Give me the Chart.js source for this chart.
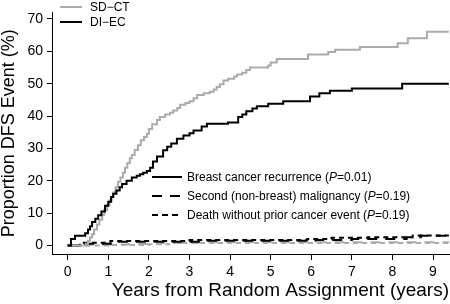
<!DOCTYPE html>
<html>
<head>
<meta charset="utf-8">
<script src="https://cdn.jsdelivr.net/npm/chart.js@4.4.0/dist/chart.umd.min.js"></script>
<style>
  html, body { margin: 0; padding: 0; background: #fff; }
  #wrap { width: 450px; height: 304px; }
</style>
</head>
<body>
<div id="wrap"><canvas id="dfsChart" width="450" height="304"></canvas></div>
<script>
// time (years) where each step happens, and the cumulative % after the step
var sdctTimes = [0, 0.45, 0.5, 0.55, 0.6, 0.65, 0.72, 0.78, 0.85, 0.9, 0.97, 1.03, 1.08, 1.13, 1.18, 1.24, 1.3, 1.36, 1.41, 1.47, 1.53, 1.58, 1.65, 1.73, 1.8, 1.88, 1.95, 2.0, 2.08, 2.2, 2.27, 2.4, 2.52, 2.6, 2.7, 2.77, 2.9, 3.0, 3.1, 3.19, 3.35, 3.5, 3.6, 3.67, 3.75, 3.84, 3.95, 4.1, 4.17, 4.3, 4.4, 4.49, 4.94, 5.0, 5.15, 5.92, 6.42, 6.59, 7.2, 8.13, 8.38, 8.85, 9.39];
var sdctRecurrence = [0, 0.6, 1.5, 2.5, 3.5, 5, 6.5, 8, 9.5, 11, 12.5, 14, 15, 16.5, 18, 19.7, 21, 22.5, 24, 25.5, 27, 28, 29.5, 31, 32.5, 33.5, 34.5, 36, 37.5, 38.8, 39.7, 40.5, 41, 41.7, 42.5, 43.5, 44, 44.6, 45.5, 46.5, 47, 47.5, 48.2, 49, 49.8, 51, 51.5, 52.2, 52.8, 53.4, 54.2, 55, 55.6, 56.5, 57.6, 59, 59.8, 60.5, 61.3, 62.5, 64, 66, 66];

var diecTimes = [0, 0.08, 0.18, 0.43, 0.5, 0.55, 0.6, 0.68, 0.75, 0.83, 0.92, 1.0, 1.07, 1.12, 1.2, 1.28, 1.34, 1.45, 1.58, 1.7, 1.78, 1.86, 1.95, 2.03, 2.1, 2.2, 2.35, 2.45, 2.55, 2.69, 2.85, 3.0, 3.1, 3.3, 3.43, 3.95, 4.2, 4.3, 4.4, 4.55, 4.66, 4.94, 5.31, 5.97, 6.2, 6.46, 7.0, 8.24, 9.39];
var diecRecurrence = [0, 2, 3, 3.8, 5, 6, 7.3, 8.3, 9.4, 10.5, 12.3, 13.5, 15, 16, 17, 18, 19, 20, 21, 21.6, 22, 22.5, 23, 24, 26, 27.5, 29.4, 30.5, 31.5, 33, 34, 34.7, 35.5, 36.8, 37.6, 38, 39.7, 40.5, 41.5, 42.3, 43, 43.8, 44.6, 46, 47, 47.8, 48.5, 50, 50];

var diecMalignancyTimes = [0, 0.35, 1.1, 3.4, 6.1, 7.0, 8.35, 8.7, 9.39];
var diecMalignancy = [0, 0.6, 1.2, 1.5, 1.7, 2.0, 2.6, 3.0, 3.0];
var diecDeathTimes = [0, 0.3, 1.05, 3.0, 5.9, 6.5, 7.4, 8.5, 9.39];
var diecDeath = [0, 0.9, 1.4, 1.7, 2.0, 2.4, 2.6, 3.1, 3.1];

var sdctMalignancyTimes = [0, 0.5, 1.5, 2.3, 3.2, 9.39];
var sdctMalignancy = [0, 0.3, 0.5, 0.8, 1.0, 1.0];
var sdctDeathTimes = [0, 1.0, 2.0, 2.6, 9.39];
var sdctDeath = [0, 0.2, 0.4, 0.8, 0.8];

var xTicks = [0, 1, 2, 3, 4, 5, 6, 7, 8, 9];
var yTicks = [0, 10, 20, 30, 40, 50, 60, 70];

var armLabels = ['SD\u2212CT', 'DI\u2212EC'];
var eventLabels = [
    ['Breast cancer recurrence (', 'P', '=0.01)'],
    ['Second (non-breast) malignancy (', 'P', '=0.19)'],
    ['Death without prior cancer event (', 'P', '=0.19)']
];

var GRAY = '#ababab';
var FONT = '"Liberation Sans", Arial, Helvetica, sans-serif';
Chart.defaults.font.family = FONT;
Chart.defaults.color = '#000';

function pts(times, vals) {
    return times.map(function(t, i) { return { x: t, y: vals[i] }; });
}

function stepSet(times, vals, color, dash) {
    return {
        data: pts(times, vals),
        borderColor: color,
        borderWidth: 2,
        borderDash: dash,
        stepped: 'before',
        pointRadius: 0,
        fill: false
    };
}

var legendPlugin = {
    id: 'legends',
    afterDraw: function(chart) {
        var ctx = chart.ctx;
        ctx.save();
        ctx.textBaseline = 'middle';
        ctx.lineWidth = 2;

        // arm legend, top left
        var armColors = [GRAY, '#000'];
        var armY = [7, 22];
        ctx.font = '12px ' + FONT;
        armLabels.forEach(function(lbl, i) {
            ctx.strokeStyle = armColors[i];
            ctx.setLineDash([]);
            ctx.beginPath();
            ctx.moveTo(60, armY[i]);
            ctx.lineTo(82, armY[i]);
            ctx.stroke();
            ctx.fillStyle = '#000';
            ctx.fillText(lbl, 90, armY[i] + 0.5);
        });

        // event legend
        var dashes = [[], [10, 8], [6, 4]];
        var evY = [177, 196, 215];
        eventLabels.forEach(function(parts, i) {
            ctx.strokeStyle = '#000';
            ctx.setLineDash(dashes[i]);
            ctx.beginPath();
            ctx.moveTo(152, evY[i]);
            ctx.lineTo(182, evY[i]);
            ctx.stroke();
            var x = 187;
            ctx.fillStyle = '#000';
            parts.forEach(function(p, j) {
                ctx.font = (j === 1 ? 'italic ' : '') + '12px ' + FONT;
                ctx.fillText(p, x, evY[i] + 0.5);
                x += ctx.measureText(p).width;
            });
        });
        ctx.restore();
    }
};

var ctx = document.getElementById('dfsChart').getContext('2d');
var dfsChart = new Chart(ctx, {
    type: 'line',
    data: {
        datasets: [
            stepSet(diecTimes, diecRecurrence, '#000', []),
            stepSet(sdctTimes, sdctRecurrence, GRAY, []),
            stepSet(diecMalignancyTimes, diecMalignancy, '#000', [10, 8]),
            stepSet(diecDeathTimes, diecDeath, '#000', [5, 4]),
            stepSet(sdctMalignancyTimes, sdctMalignancy, GRAY, [10, 8]),
            stepSet(sdctDeathTimes, sdctDeath, GRAY, [5, 4])
        ]
    },
    options: {
        responsive: false,
        animation: false,
        devicePixelRatio: 1,
        layout: { padding: { top: 0, right: 1, bottom: 0, left: 0 } },
        plugins: {
            legend: { display: false },
            tooltip: { enabled: false }
        },
        scales: {
            x: {
                type: 'linear',
                min: -0.387,
                max: 9.394,
                afterBuildTicks: function(axis) { axis.ticks = xTicks.map(function(v) { return { value: v }; }); },
                afterFit: function(axis) { axis.height = 50; },
                grid: { drawOnChartArea: false, drawTicks: true, tickLength: 6, color: '#000', lineWidth: 1 },
                border: { display: true, color: '#000', width: 1 },
                ticks: { color: '#000', font: { size: 14 }, padding: 4, maxRotation: 0, autoSkip: false },
                title: {
                    display: true,
                    text: 'Years from Random Assignment (years)',
                    align: 'end',
                    color: '#000',
                    font: { size: 19, lineHeight: 1 },
                    padding: { top: 0, bottom: 4 }
                }
            },
            y: {
                type: 'linear',
                min: -2.6,
                max: 72,
                afterBuildTicks: function(axis) { axis.ticks = yTicks.map(function(v) { return { value: v }; }); },
                afterFit: function(axis) { axis.width = 52; },
                grid: { drawOnChartArea: false, drawTicks: true, tickLength: 5, color: '#000', lineWidth: 1 },
                border: { display: true, color: '#000', width: 1 },
                ticks: { color: '#000', font: { size: 14 }, padding: 4 },
                title: {
                    display: true,
                    text: 'Proportion DFS Event (%)',
                    color: '#000',
                    font: { size: 18, lineHeight: 1 },
                    padding: { top: 0, bottom: 0 }
                }
            }
        }
    },
    plugins: [legendPlugin]
});
</script>
</body>
</html>
